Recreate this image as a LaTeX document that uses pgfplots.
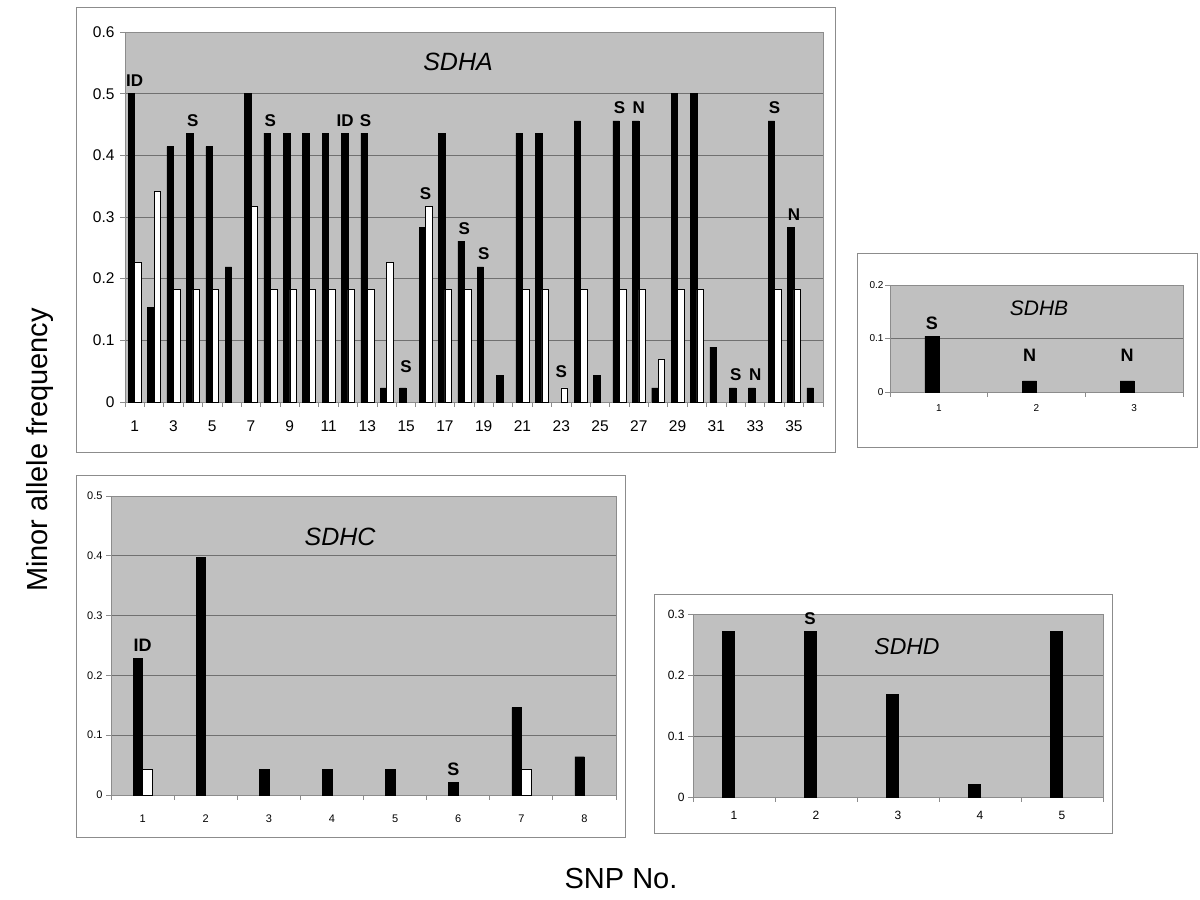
\documentclass[border=0pt]{standalone}
\usepackage{fontspec}
\setmainfont{Liberation Sans}
\usepackage{pgfplots}
\pgfplotsset{compat=1.18}

\definecolor{plotbg}{HTML}{C0C0C0}
\definecolor{gridc}{HTML}{707070}
\definecolor{framec}{HTML}{8C8C8C}

\newcommand{\fs}[1]{\fontsize{#1}{#1}\selectfont}

\tikzset{lbl/.style={anchor=base, inner sep=0pt, yshift=7pt, font=\bfseries\fs{17}}}

\pgfplotsset{
  sdh/.style={
    scale only axis, anchor=south west, clip=false,
    axis background/.style={fill=plotbg},
    axis line style={draw=framec, line width=0.8pt},
    ymin=0, ymajorgrids,
    major grid style={draw=gridc, line width=0.8pt},
    tick align=outside, major tick length=0pt, minor tick length=5pt,
    xtick pos=bottom, ytick pos=left,
    tick style={draw=framec, line width=0.8pt},
    /pgf/number format/assume math mode=true,
    yticklabel style={/pgf/number format/fixed, /pgf/number format/precision=1},
    ybar=0pt,
  },
  blk/.style={fill=black, draw=black, line width=0.4pt},
  wht/.style={fill=white, draw=black, line width=0.6pt},
}

\begin{document}
\begin{tikzpicture}[x=1pt, y=1pt]
\path[fill=white] (0,0) rectangle (1200,900);

% frames
\draw[framec, line width=0.8pt] (76,448) rectangle (835,893);
\draw[framec, line width=0.8pt] (857,453) rectangle (1197,647);
\draw[framec, line width=0.8pt] (76,63) rectangle (625,425);
\draw[framec, line width=0.8pt] (654,67) rectangle (1112,306);

% SDHA
\begin{axis}[sdh, at={(125pt,498pt)}, width=698pt, height=370pt,
  xmin=0.5, xmax=36.5, ymax=0.6,
  ytick={0,0.1,...,0.6}, minor ytick={0,0.1,...,0.6},
  xtick={1,3,...,35}, minor xtick={0.5,1.5,...,36.5},
  bar width=6.5pt,
  tick label style={font=\fs{15.5}},
  xticklabel style={yshift=-15pt}, yticklabel style={xshift=-7pt}]
\addplot[blk] coordinates {(1,0.500) (2,0.154) (3,0.414) (4,0.436) (5,0.414) (6,0.219)
  (7,0.500) (8,0.436) (9,0.436) (10,0.436) (11,0.436) (12,0.436) (13,0.436) (14,0.023)
  (15,0.023) (16,0.283) (17,0.436) (18,0.261) (19,0.219) (20,0.043) (21,0.436) (22,0.436)
  (24,0.456) (25,0.043) (26,0.456) (27,0.456) (28,0.023) (29,0.500) (30,0.500) (31,0.089)
  (32,0.023) (33,0.023) (34,0.456) (35,0.283) (36,0.023)};
\addplot[wht] coordinates {(1,0.227) (2,0.341) (3,0.182) (4,0.182) (5,0.182) (7,0.317)
  (8,0.182) (9,0.182) (10,0.182) (11,0.182) (12,0.182) (13,0.182) (14,0.227) (16,0.317)
  (17,0.182) (18,0.182) (21,0.182) (22,0.182) (23,0.023) (24,0.182) (26,0.182) (27,0.182)
  (28,0.069) (29,0.182) (30,0.182) (34,0.182) (35,0.182)};
\node[lbl] at (axis cs:1,0.5) {ID};
\node[lbl] at (axis cs:4,0.436) {S};
\node[lbl] at (axis cs:8,0.436) {S};
\node[lbl] at (axis cs:11.85,0.436) {ID};
\node[lbl] at (axis cs:12.9,0.436) {S};
\node[lbl] at (axis cs:15,0.036) {S};
\node[lbl] at (axis cs:16,0.317) {S};
\node[lbl] at (axis cs:18,0.261) {S};
\node[lbl] at (axis cs:19,0.219) {S};
\node[lbl] at (axis cs:23,0.029) {S};
\node[lbl] at (axis cs:26,0.456) {S};
\node[lbl] at (axis cs:27,0.456) {N};
\node[lbl] at (axis cs:32,0.023) {S};
\node[lbl] at (axis cs:33,0.023) {N};
\node[lbl] at (axis cs:34,0.456) {S};
\node[lbl] at (axis cs:35,0.283) {N};
\end{axis}

% SDHB
\begin{axis}[sdh, at={(890pt,508pt)}, width=293pt, height=107pt,
  xmin=0.5, xmax=3.5, ymax=0.2,
  ytick={0,0.1,0.2}, minor ytick={0,0.1,0.2},
  xtick={1,2,3}, minor xtick={0.5,1.5,...,3.5},
  bar width=14pt,
  tick label style={font=\fs{10}},
  xticklabel style={yshift=-9pt}, yticklabel style={xshift=-3pt}]
\addplot[blk, bar shift=-7pt] coordinates {(1,0.104) (2,0.021) (3,0.021)};
\node[lbl, xshift=-7pt, font=\bfseries\fs{18}] at (axis cs:1,0.104) {S};
\node[lbl, xshift=-7pt, yshift=12pt, font=\bfseries\fs{18}] at (axis cs:2,0.021) {N};
\node[lbl, xshift=-7pt, yshift=12pt, font=\bfseries\fs{18}] at (axis cs:3,0.021) {N};
\end{axis}

% SDHC
\begin{axis}[sdh, at={(111pt,105pt)}, width=505pt, height=299pt,
  xmin=0.5, xmax=8.5, ymax=0.5,
  ytick={0,0.1,...,0.5}, minor ytick={0,0.1,...,0.5},
  xtick={1,...,8}, minor xtick={0.5,1.5,...,8.5},
  bar width=9.5pt,
  tick label style={font=\fs{11}},
  xticklabel style={yshift=-16pt}, yticklabel style={xshift=-5pt}]
\addplot[blk] coordinates {(1,0.229) (2,0.397) (3,0.043) (4,0.043) (5,0.043) (6,0.021) (7,0.146) (8,0.064)};
\addplot[wht] coordinates {(1,0.043) (7,0.043)};
\node[lbl, font=\bfseries\fs{18}] at (axis cs:1,0.229) {ID};
\node[lbl, xshift=-4.75pt, font=\bfseries\fs{18}] at (axis cs:6,0.021) {S};
\end{axis}

% SDHD
\begin{axis}[sdh, at={(693pt,103pt)}, width=410pt, height=183pt,
  xmin=0.5, xmax=5.5, ymax=0.3,
  ytick={0,0.1,0.2,0.3}, minor ytick={0,0.1,0.2,0.3},
  xtick={1,...,5}, minor xtick={0.5,1.5,...,5.5},
  bar width=12pt,
  tick label style={font=\fs{12}},
  xticklabel style={yshift=-11pt}, yticklabel style={xshift=-5pt}]
\addplot[blk, bar shift=-6pt] coordinates {(1,0.271) (2,0.271) (3,0.168) (4,0.021) (5,0.271)};
\node[lbl, xshift=-6pt, font=\bfseries\fs{17}] at (axis cs:2,0.271) {S};
\end{axis}

% titles
\node[font=\itshape\fs{25}] at (458,838) {SDHA};
\node[font=\itshape\fs{21}] at (1039,592) {SDHB};
\node[font=\itshape\fs{25}] at (340,363) {SDHC};
\node[font=\itshape\fs{23}] at (907,253) {SDHD};

% axis labels
\node[rotate=90, font=\fs{29}] at (40,450) {Minor allele frequency};
\node[font=\fs{29}] at (621,21) {SNP No.};
\end{tikzpicture}
\end{document}
